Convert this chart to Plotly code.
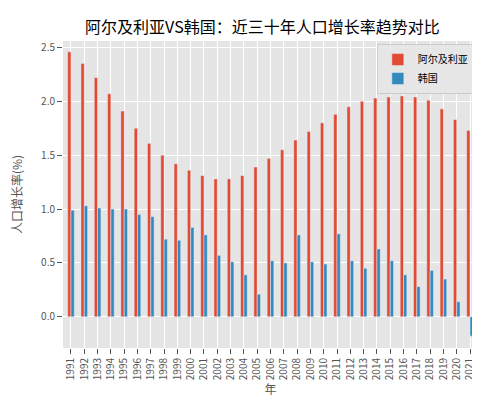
import plotly.graph_objects as go

years = [str(y) for y in range(1991, 2022)]
algeria = [2.46, 2.35, 2.22, 2.07, 1.91, 1.75, 1.61, 1.50, 1.42, 1.36, 1.31, 1.28, 1.28, 1.31, 1.39, 1.47,
           1.55, 1.64, 1.72, 1.80, 1.88, 1.95, 2.00, 2.03, 2.04, 2.05, 2.04, 2.01, 1.93, 1.83, 1.73]
korea = [0.99, 1.03, 1.01, 1.00, 1.00, 0.95, 0.93, 0.72, 0.71, 0.83, 0.76, 0.57, 0.51, 0.39, 0.21, 0.52,
         0.50, 0.76, 0.51, 0.49, 0.77, 0.52, 0.45, 0.63, 0.52, 0.39, 0.28, 0.43, 0.35, 0.14, -0.18]

fig = go.Figure([
    go.Bar(x=years, y=algeria, name='阿尔及利亚', marker_color='#E24A33'),
    go.Bar(x=years, y=korea, name='韩国', marker_color='#348ABD'),
])
fig.update_layout(
    width=480, height=400, barmode='group', bargap=0.5, bargroupgap=0,
    font=dict(family='Noto Sans CJK SC', size=10, color='#555'),
    title=dict(text='阿尔及利亚VS韩国：近三十年人口增长率趋势对比', x=0.53, y=0.965,
               font=dict(size=16, color='black')),
    paper_bgcolor='white', plot_bgcolor='#E5E5E5',
    margin=dict(l=50, r=10, t=33, b=60),
    legend=dict(x=0.99, y=0.99, xanchor='right', bgcolor='rgba(229,229,229,0.9)',
                bordercolor='#ccc', borderwidth=1, font=dict(size=10, color='black'),
                itemwidth=30, tracegroupgap=0),
    xaxis=dict(title=dict(text='年', font=dict(size=12), standoff=2), tickangle=-90,
               range=[-0.6, 30.6], showgrid=True, gridcolor='white',
               ticks='outside', tickcolor='#555'),
    yaxis=dict(title=dict(text='人口增长率(%)', font=dict(size=12)), range=[-0.29, 2.56],
               dtick=0.5, tickformat='.1f', gridcolor='white', zeroline=False,
               ticks='outside', tickcolor='#555'),
)
fig.write_html("out.html")
